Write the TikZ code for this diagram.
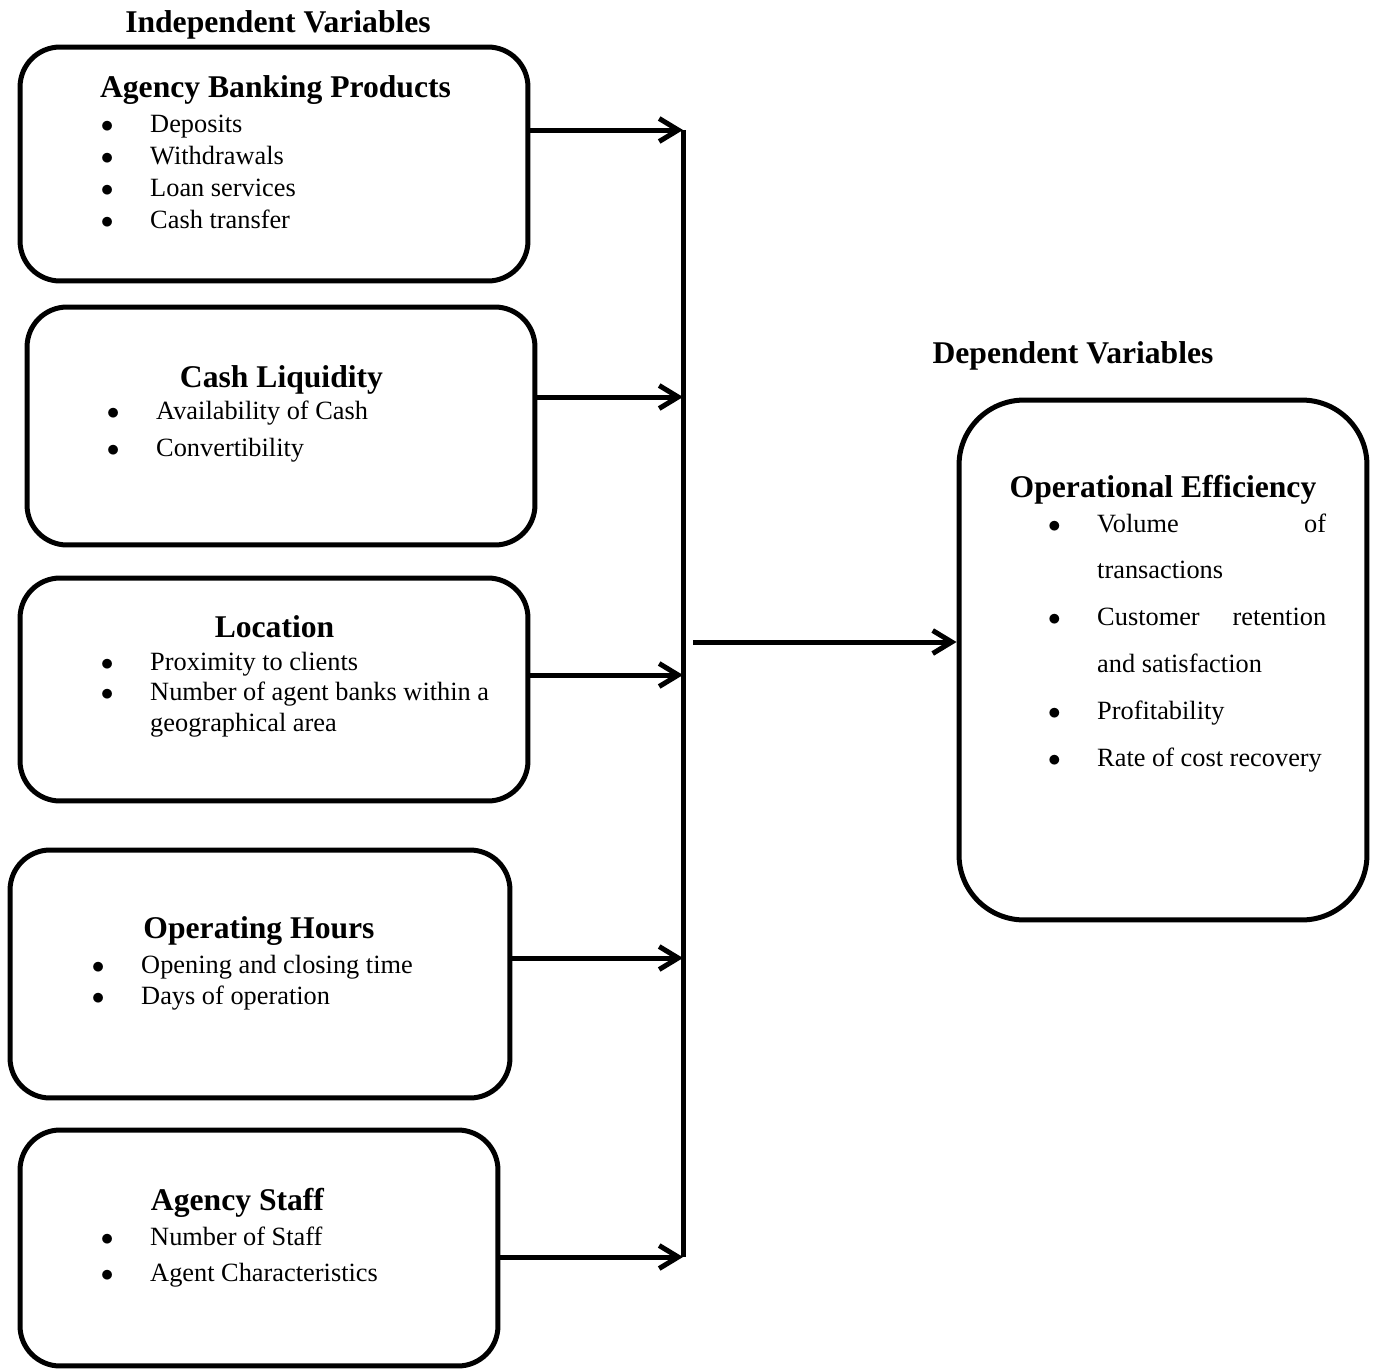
\documentclass[tikz,border=0pt]{standalone}
\usepackage{fontspec}
\setmainfont{Liberation Serif}
\usetikzlibrary{arrows.meta}
\newcommand{\bul}{\makebox[0.95cm][l]{\hspace{-1pt}$\bullet$}}
\newcommand{\gap}{\hspace*{0.95cm}}
\newcommand{\blist}[2]{\fontsize{15}{#1}\selectfont\begin{tabular}[t]{@{}l@{}}#2\end{tabular}}

\begin{document}
\begin{tikzpicture}[x=0.02cm,y=-0.02cm,>={Straight Barb[length=3.8mm,width=4.6mm]},
		varbox/.style={draw,line width=1mm,rounded corners=8mm},
		heading/.style={anchor=base,inner sep=0pt,font=\fontsize{18}{21}\selectfont\bfseries},
		items/.style={anchor=base west,inner sep=0pt},
		link/.style={->,line width=1mm}]
		\useasboundingbox (0,0) rectangle (1377,1370);
		
		\node[heading] (indep) at (278,32) {Independent Variables};
		\node[heading] (depv) at (1073,363) {Dependent Variables};
		
		% independent variables
		\node[varbox,minimum width=10.16cm,minimum height=4.68cm] (abp) at (274,164) {};
		\node[heading] (abpT) at (275.5,97) {Agency Banking Products};
		\node[items] (abpL) at (102.4,132) {\blist{18.4pt}{\bul Deposits\\ \bul Withdrawals\\ \bul Loan services\\ \bul Cash transfer}};
		
		\node[varbox,minimum width=10.16cm,minimum height=4.76cm] (cl) at (281,426) {};
		\node[heading] (clT) at (281.5,387) {Cash Liquidity};
		\node[items] (clL) at (108.4,419) {\blist{21.6pt}{\bul Availability of Cash\\ \bul Convertibility}};
		
		\node[varbox,minimum width=10.16cm,minimum height=4.46cm] (loc) at (274,689.5) {};
		\node[heading] (locT) at (274.5,637) {Location};
		\node[items] (locL) at (102.4,670) {\blist{17.6pt}{\bul Proximity to clients\\ \bul Number of agent banks within a\\ \gap geographical area}};
		
		\node[varbox,minimum width=10cm,minimum height=4.96cm] (oh) at (260,974) {};
		\node[heading] (ohT) at (259,938) {Operating Hours};
		\node[items] (ohL) at (93.4,973) {\blist{18.2pt}{\bul Opening and closing time\\ \bul Days of operation}};
		
		\node[varbox,minimum width=9.56cm,minimum height=4.72cm] (as) at (259,1248) {};
		\node[heading] (asT) at (237.5,1210) {Agency Staff};
		\node[items] (asL) at (102.4,1245) {\blist{21pt}{\bul Number of Staff\\ \bul Agent Characteristics}};
		
		% dependent variable
		\node[varbox,rounded corners=13mm,minimum width=8.16cm,minimum height=10.4cm] (oe) at (1163,660) {};
		\node[heading] (oeT) at (1163,497) {Operational Efficiency};
		\node[items] (oeL) at (1049.4,532) {\blist{26.7pt}{\bul\makebox[4.58cm][l]{Volume\hfill of}\\ \gap transactions\\ \bul\makebox[4.58cm][l]{Customer\hfill retention}\\ \gap and satisfaction\\ \bul Profitability\\ \bul Rate of cost recovery}};
		
		% joining bar
		\coordinate (j1) at (683,130);
		\coordinate (j2) at (683,397);
		\coordinate (j3) at (683,675);
		\coordinate (j4) at (683,958);
		\coordinate (j5) at (683,1257);
		\coordinate (jm) at (693,642);
		
		\draw[line width=1mm] (j1) -- (j5);
		
		\path[link]
		(abp.east |- j1) edge (j1)
		(cl.east |- j2) edge (j2)
		(loc.east |- j3) edge (j3)
		(oh.east |- j4) edge (j4)
		(as.east |- j5) edge (j5)
		(jm) edge (oe.west |- jm);
\end{tikzpicture}
\end{document}
